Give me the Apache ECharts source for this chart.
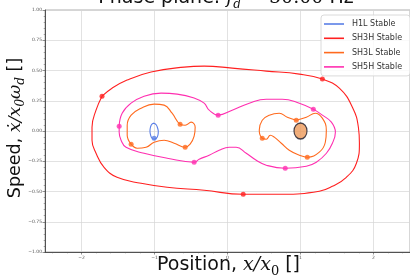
<!DOCTYPE html>
<html><head><meta charset="utf-8">
<script src="https://cdn.jsdelivr.net/npm/echarts@6/dist/echarts.min.js"></script>
<style>html,body{margin:0;padding:0;background:#fff}#c{width:410px;height:280px}</style>
</head><body><div id="c"></div>
<script>
// ---- data ----
const seriesNames = ['H1L Stable', 'SH3H Stable', 'SH3L Stable', 'SH5H Stable'];
const yTicks = [-1, -0.75, -0.5, -0.25, 0, 0.25, 0.5, 0.75, 1];
const xTicks = [-2, -1, 0, 1, 2];

const h1lOrbit = [[-1.005,0.065],[-0.977,0.052],[-0.958,0.025],[-0.948,-0.005],[-0.955,-0.038],[-0.975,-0.060],[-1.005,-0.068],[-1.035,-0.058],[-1.055,-0.030],[-1.062,0.000],[-1.055,0.032],[-1.035,0.056],[-1.005,0.065]];
const h1lPoints = [[-1.005,-0.060]];

const sh3hOrbit = [[-1.719,0.288],[-1.582,0.354],[-1.376,0.421],[-1.047,0.488],[-0.594,0.528],[-0.320,0.536],[0.064,0.520],[0.531,0.495],[0.984,0.470],[1.300,0.429],[1.532,0.354],[1.711,0.197],[1.793,0.031],[1.807,-0.101],[1.766,-0.267],[1.628,-0.383],[1.436,-0.457],[1.258,-0.498],[0.750,-0.523],[0.215,-0.523],[-0.320,-0.490],[-0.827,-0.465],[-1.184,-0.432],[-1.513,-0.383],[-1.691,-0.300],[-1.801,-0.184],[-1.856,-0.076],[-1.856,0.031],[-1.801,0.172],[-1.719,0.288]];
const sh3hPoints = [[-1.719,0.288],[1.300,0.429],[0.215,-0.523]];

const sh3lLeftOrbit = [[-1.320,-0.109],[-1.374,-0.035],[-1.374,0.048],[-1.320,0.131],[-1.183,0.189],[-1.005,0.222],[-0.868,0.214],[-0.759,0.147],[-0.649,0.056],[-0.580,0.048],[-0.498,0.073],[-0.443,0.031],[-0.457,-0.043],[-0.512,-0.109],[-0.580,-0.134],[-0.731,-0.101],[-0.868,-0.076],[-1.005,-0.093],[-1.115,-0.134],[-1.238,-0.142],[-1.320,-0.109]];
const sh3lRightOrbit = [[0.942,0.089],[1.080,0.114],[1.203,0.147],[1.299,0.106],[1.354,0.007],[1.340,-0.093],[1.258,-0.175],[1.093,-0.217],[0.984,-0.200],[0.846,-0.159],[0.737,-0.101],[0.641,-0.051],[0.586,-0.035],[0.531,-0.068],[0.476,-0.060],[0.435,0.007],[0.476,0.089],[0.572,0.131],[0.709,0.147],[0.819,0.114],[0.942,0.089]];
const sh3lPoints = [[-0.649,0.056],[-1.320,-0.109],[-0.580,-0.134],[0.942,0.089],[0.476,-0.060],[1.093,-0.217]];

const sh5hOrbit = [[-1.484,0.040],[-1.443,0.147],[-1.321,0.230],[-1.143,0.288],[-0.910,0.313],[-0.690,0.305],[-0.457,0.272],[-0.320,0.230],[-0.251,0.172],[-0.128,0.131],[0.064,0.172],[0.298,0.230],[0.531,0.263],[0.750,0.263],[0.984,0.230],[1.176,0.180],[1.299,0.131],[1.423,0.073],[1.478,-0.010],[1.437,-0.101],[1.355,-0.184],[1.217,-0.258],[1.080,-0.291],[0.791,-0.308],[0.531,-0.283],[0.394,-0.242],[0.257,-0.184],[0.119,-0.134],[0.023,-0.134],[-0.114,-0.159],[-0.251,-0.200],[-0.388,-0.233],[-0.457,-0.258],[-0.827,-0.225],[-1.143,-0.184],[-1.390,-0.134],[-1.458,-0.076],[-1.484,-0.010],[-1.484,0.040]];
const sh5hPoints = [[-1.484,0.040],[-0.128,0.131],[1.176,0.180],[-0.457,-0.258],[0.791,-0.308]];

const equilibrium = [[1, 0]];

// minor tick positions on x (every 0.2, skipping the integer majors)
const xMinor = [];
for (let i = -12; i <= 12; i++) { if (i % 5 !== 0) xMinor.push(+(i * 0.2).toFixed(1)); }

// ---- styles ----
const C = {h1l:'#5a7fe6', sh3h:'#ff2020', sh3l:'#ff6a1e', sh5h:'#ff2fb0'};
const chart = echarts.init(document.getElementById('c'), null, {renderer:'canvas'});
const minus = s => s.replace('-', '\u2212');
function orbit(name, data, color){
  return {type:'line', name, data, smooth:0.45, showSymbol:false, symbol:'none',
    lineStyle:{color, width:1.1}, itemStyle:{color}, z:2, silent:true, animation:false};
}
function pts(data, color){
  return {type:'scatter', data, symbolSize:5, itemStyle:{color}, z:3, silent:true, animation:false};
}
const tickLabel = {fontSize:4.5, color:'#555', fontFamily:'DejaVu Sans'};
const isTick = (arr, v) => arr.some(t => Math.abs(t - v) < 1e-9);
chart.setOption({
  animation:false,
  grid:{left:45, right:0, top:10, bottom:28, show:true, borderColor:'#999', borderWidth:0.8},
  xAxis:[{type:'value', min:-2.5, max:2.5,
    axisLine:{show:true, onZero:false, lineStyle:{color:'#444', width:0.9}},
    axisTick:{show:true, length:2.5, customValues:xTicks, lineStyle:{color:'#444', width:0.6}},
    minorTick:{show:false},
    axisLabel:{...tickLabel, margin:3, customValues:xTicks, formatter:v => minus(String(Math.round(v)))},
    splitLine:{show:true, lineStyle:{color:'#d6d6d6', width:0.7}}},
   {type:'value', min:-2.5, max:2.5, position:'bottom', offset:0,
    axisLine:{show:false, onZero:false}, axisLabel:{show:false}, splitLine:{show:false},
    axisTick:{show:true, length:1.3, customValues:xMinor, lineStyle:{color:'#555', width:0.5}}}],
  yAxis:{type:'value', min:-1, max:1, interval:0.25,
    axisLine:{show:true, onZero:false, lineStyle:{color:'#444', width:0.9}},
    axisTick:{show:true, length:2.5, lineStyle:{color:'#444', width:0.6}},
    minorTick:{show:true, splitNumber:5, length:1.3, lineStyle:{color:'#555', width:0.5}},
    axisLabel:{...tickLabel, margin:3, formatter:v => isTick(yTicks, v) ? minus(v.toFixed(2)) : ''},
    splitLine:{show:true, lineStyle:{color:'#d6d6d6', width:0.7}}},
  legend:{data:seriesNames, orient:'vertical', left:321, top:15, icon:'rect', itemWidth:20, itemHeight:1.6,
    itemGap:4.3, padding:[4,8,4,3], backgroundColor:'rgba(255,255,255,0.85)', borderColor:'#d0d0d0',
    borderWidth:0.8, borderRadius:3, selectedMode:false,
    textStyle:{fontSize:8, lineHeight:10, color:'#333', fontFamily:'DejaVu Sans', padding:[0,0,0,3]}},
  series:[
    orbit(seriesNames[0], h1lOrbit, C.h1l),
    orbit(seriesNames[1], sh3hOrbit, C.sh3h),
    orbit(seriesNames[2], sh3lLeftOrbit, C.sh3l),
    orbit(seriesNames[2], sh3lRightOrbit, C.sh3l),
    orbit(seriesNames[3], sh5hOrbit, C.sh5h),
    pts(h1lPoints, C.h1l), pts(sh3hPoints, C.sh3h), pts(sh3lPoints, C.sh3l), pts(sh5hPoints, C.sh5h),
    {type:'scatter', data:equilibrium, symbolSize:[13,16], z:4, silent:true,
      itemStyle:{color:'#ee9a5a', borderColor:'#1a1a2a', borderWidth:1.3}}
  ],
  graphic:[
    {type:'text', x:226, y:-11, z:10,
      style:{align:'center', verticalAlign:'top',
        text:'{a|Phase plane: }{m|f}{s|d}{n| = 50.00 }{a|Hz}', rich:{
        a:{fontSize:19, fontFamily:'DejaVu Sans', fill:'#111'},
        m:{fontSize:19, fontFamily:'DejaVu Serif', fontStyle:'italic', fill:'#111'},
        n:{fontSize:19, fontFamily:'DejaVu Serif', fill:'#111'},
        s:{fontSize:12, fontFamily:'DejaVu Serif', fontStyle:'italic', fill:'#111', verticalAlign:'bottom', padding:[0,0,-3,0]}}}},
    {type:'text', left:157, top:256, z:10,
      style:{text:'{a|Position, }{m|x/x}{s|0}{a| []}', rich:{
        a:{fontSize:19, fontFamily:'DejaVu Sans', fill:'#111'},
        m:{fontSize:19, fontFamily:'DejaVu Serif', fontStyle:'italic', fill:'#111'},
        s:{fontSize:13, fontFamily:'DejaVu Serif', fill:'#111', verticalAlign:'bottom', padding:[0,0,-3,0]}}}},
    {type:'text', x:6, y:128, rotation:Math.PI/2, z:10,
      style:{text:'{a|Speed, }{m|x\u0307/x}{s|0}{m|\u03c9}{s|d}{a| []}', align:'center', verticalAlign:'top', rich:{
        a:{fontSize:17.5, fontFamily:'DejaVu Sans', fill:'#111'},
        m:{fontSize:17.5, fontFamily:'DejaVu Serif', fontStyle:'italic', fill:'#111'},
        s:{fontSize:12, fontFamily:'DejaVu Serif', fontStyle:'italic', fill:'#111', verticalAlign:'bottom', padding:[0,0,-3,0]}}}}
  ]
});
</script></body></html>
